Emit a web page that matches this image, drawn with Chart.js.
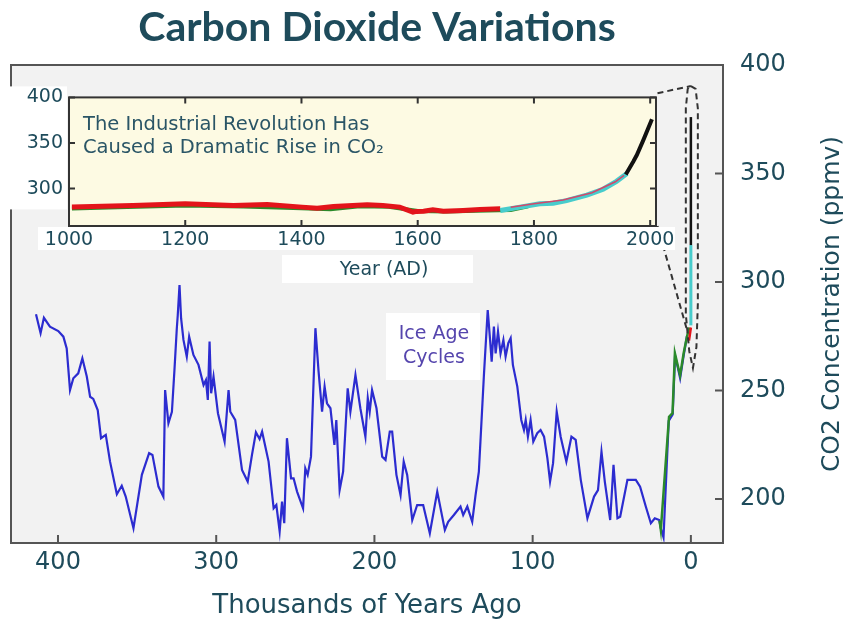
<!DOCTYPE html>
<html>
<head>
<meta charset="utf-8">
<script src="https://cdn.jsdelivr.net/npm/chart.js@4.4.0/dist/chart.umd.min.js"></script>
<style>
  body { margin: 0; background: #fff; }
  #wrap { position: relative; width: 843px; height: 619px; }
  #inset { position: absolute; left: 0; top: 80px; }
</style>
</head>
<body>
<div id="wrap">
  <canvas id="main" width="843" height="619"></canvas>
  <canvas id="inset" width="680" height="210"></canvas>
</div>
<script>
// ice core record (thousands of years ago, ppmv)
var blueAge = [413.9,411,408.9,405.1,399.8,396.6,394.5,392.4,390.3,387.2,384.6,381.8,379.7,377.7,374.9,372.8,369.8,367.1,362.8,359.7,357.2,352.3,347,342.4,340.3,336.5,333.4,332.3,330.2,328,326.4,324.9,324.3,323.2,322.2,320.7,318.6,317.1,314.4,311.2,308,306.5,305.3,304.2,303.2,301.7,298.9,294.7,292.2,291.1,288,283.7,280.1,277.4,274.9,272.6,271,266.9,263.7,262,259.9,258.4,257,255.3,252.7,251.1,248.9,245.1,243.7,242.2,240.1,237.3,235.3,233.1,231.5,230,227.8,225.3,224.1,222,219.8,216.9,215.2,212,208.9,205.7,204.2,203,201.5,198.7,195.1,193,190.3,188.8,186.1,183.5,181.5,179.3,176.1,173,169.2,165,160.3,155.5,153.4,149.8,145.6,143.9,141.3,138.2,136.1,134,130.8,128.4,127,125.9,124.5,123.4,121.9,120.3,118.5,117.1,115.4,113.9,112.5,109.7,107.2,105.5,104.4,103,101.3,99.6,97.1,95,92.8,90.7,89,87.1,84.8,82.3,78.7,75.5,72.8,69.6,65.4,61.2,58.7,56.5,54.4,51,48.9,46.4,44.7,40.1,34.8,32.1,28.5,25.3,22.8,20,19,17.3,14,11.5,10,8.4,6.8,4.6,2.5];
var blueCO2 = [285.1,276.4,283.5,279.4,277.4,274.8,269.4,250.2,255.6,257.9,264.8,256.4,247.1,246.1,241,228,229.5,217.2,202.2,206.1,201.1,186.5,211.1,221.1,220.3,205.7,201.1,250.2,234.9,240.2,259.4,278.7,284.8,298.6,283.3,273.3,265.6,274.8,266.4,261.8,252.5,254.8,245.6,272.5,248.7,256.4,239.5,226.4,250.2,240.2,236.4,213.4,208,220.3,230.7,227.6,231,217.2,195.7,197.2,185,198.8,188.8,228,209.5,209.5,203.4,195.7,214.1,211.1,219.5,278.7,258.7,240.2,251.8,244.1,241.8,224.9,236.4,204.1,212.6,251,240.2,257.1,241.8,228.7,246.4,240.2,250.2,241.8,219.5,218,231,231,211.1,201.8,217.2,211.1,190.3,197.2,197.2,184.2,203.4,185.7,189.5,192.6,196.5,192.6,196.5,189.5,201.8,212.6,257.1,287.1,274.1,263.3,279.4,267.1,277.1,267.1,273.3,265.6,271.8,274.1,261.8,251.8,236.4,231.8,236.4,228.7,236.4,226.4,230.3,231.8,228.7,218.8,208,216.5,240.2,228.7,217.2,228.7,227.2,208.8,191.1,201.1,204.1,221.8,208,190.3,215.7,191.1,191.8,208.8,208.8,205.7,196.5,188.8,191.1,190.3,186.5,182.3,236,239,266,261,255.6,266,275];

var greenAge = [19.8,19,13.8,11.6,10.1,8.4,6.8,4.6,2.5,1];
var greenCO2 = [190,185.7,237.9,239.5,267.1,261.8,257,267,274.8,279];
var redDotAge = [1.2,0];
var redDotCO2 = [273,279];
var cyanSpikeAge = [0,0];
var cyanSpikeCO2 = [280,317];
var blackSpikeAge = [0,0];
var blackSpikeCO2 = [317,376];

// dashed zoom callout
var loopAge = [0,-3,-4.4,-4.4,-3.5,-1.3,1,3.2,3.2,2,0];
var loopCO2 = [390.3,389,380,290,270,260.4,268,285,380,389,390.3];
var topLineAge = [21.1,0];
var topLineCO2 = [387,390.3];
var diagLineAge = [21.1,2.5];
var diagLineCO2 = [325.8,278];

var ageTicks = [400,300,200,100,0];
var co2Ticks = [200,250,300,350,400];

// inset: years AD
var greenYear = [1005,1100,1200,1300,1400,1450,1500,1550,1600,1650,1700,1760,1790];
var greenYearCO2 = [278.3,279.8,281.5,280.5,278.5,277.5,280.6,280,275.5,274.8,275.6,276.5,280.5];
var redYear = [1005,1110,1200,1283,1341,1401,1427,1455,1513,1540,1569,1592,1598,1610,1626,1644,1678,1707,1742];
var redCO2 = [279.7,281.5,283.3,281.5,282.5,279.7,278.6,280.4,282.2,281.5,279.7,274.3,275,275.3,276.8,275.3,276,277,277.8];
var cyanYear = [1742,1776,1810,1833,1856,1891,1919,1942,1960];
var cyanCO2 = [276,279.7,283.3,284,286.8,292.9,299.3,308,316.5];
var redThinYear = [1760,1800,1850,1900,1940,1955];
var redThinCO2 = [279.5,283.5,287.5,295.5,307.5,314.5];
var blackYear = [1958,1971,1977,1988,2003];
var blackCO2 = [315.4,329.7,336.8,352.9,376];

var yearTicks = [1000,1200,1400,1600,1800,2000];
var insetCo2Ticks = [300,350,400];

var tealText = '#1e4b5b';
var numFont = 'DejaVu Sans';

function pts(xs, ys) {
  return xs.map(function (x, i) { return { x: x, y: ys[i] }; });
}
function line(data, color, width, order, dash) {
  return { data: data, borderColor: color, borderWidth: width, order: order,
    borderDash: dash || [], pointRadius: 0, fill: false, tension: 0 };
}
function plain(v) { return String(v); }

var mainDecor = {
  id: 'mainDecor',
  beforeDraw: function (chart) {
    var a = chart.chartArea, ctx = chart.ctx;
    ctx.save();
    ctx.fillStyle = '#f2f2f2';
    ctx.fillRect(a.left, a.top, a.right - a.left, a.bottom - a.top);
    ctx.restore();
  },
  afterDatasetsDraw: function (chart) {
    var a = chart.chartArea, ctx = chart.ctx;
    ctx.save();
    ctx.strokeStyle = '#555';
    ctx.lineWidth = 2;
    ctx.strokeRect(a.left, a.top, a.right - a.left, a.bottom - a.top);
    ctx.beginPath();
    chart.scales.x.ticks.forEach(function (t) {
      var p = chart.scales.x.getPixelForValue(t.value);
      ctx.moveTo(p, a.bottom); ctx.lineTo(p, a.bottom - 8);
    });
    chart.scales.y.ticks.forEach(function (t) {
      var p = chart.scales.y.getPixelForValue(t.value);
      ctx.moveTo(a.right, p); ctx.lineTo(a.right - 8, p);
    });
    ctx.stroke();
    ctx.restore();
  },
  afterDraw: function (chart) {
    var a = chart.chartArea, ctx = chart.ctx;
    ctx.save();
    // title
    ctx.fillStyle = tealText;
    ctx.font = 'bold 41px Lato';
    ctx.textAlign = 'center';
    ctx.textBaseline = 'middle';
    ctx.fillText('Carbon Dioxide Variations', (a.left + a.right) / 2 + 10, 28);
    // right axis title, reading upward
    ctx.font = '25px ' + numFont;
    ctx.translate(chart.scales.y.right - 11, (a.top + a.bottom) / 2);
    ctx.rotate(-Math.PI / 2);
    ctx.fillText('CO2 Concentration (ppmv)', 0, 0);
    ctx.restore();
    // Ice Age Cycles label
    ctx.save();
    ctx.fillStyle = '#fff';
    ctx.fillRect(386, 313, 94, 67);
    ctx.fillStyle = '#5545ad';
    ctx.font = '19px ' + numFont;
    ctx.textAlign = 'center';
    ctx.textBaseline = 'middle';
    ctx.fillText('Ice Age', 434, 334);
    ctx.fillText('Cycles', 434, 358);
    ctx.restore();
  }
};

new Chart(document.getElementById('main'), {
  type: 'line',
  data: {
    datasets: [
      line(pts(loopAge, loopCO2), '#333', 2, 0, [6, 4]),
      line(pts(topLineAge, topLineCO2), '#333', 2, 0, [6, 4]),
      line(pts(diagLineAge, diagLineCO2), '#333', 2, 0, [6, 4]),
      line(pts(blackSpikeAge, blackSpikeCO2), '#111', 2.5, 1),
      line(pts(cyanSpikeAge, cyanSpikeCO2), '#48cccc', 3, 2),
      line(pts(redDotAge, redDotCO2), '#e3141b', 2.5, 3),
      line(pts(greenAge, greenCO2), '#2a8a2a', 2.5, 4),
      line(pts(blueAge, blueCO2), '#2c2cd0', 2.2, 5)
    ]
  },
  options: {
    responsive: false,
    animation: false,
    layout: { padding: { top: 65, left: 11, right: 0, bottom: 0 } },
    plugins: { legend: { display: false }, tooltip: { enabled: false } },
    scales: {
      x: {
        type: 'linear', reverse: true, min: -20.3, max: 429.7,
        afterBuildTicks: function (s) { s.ticks = ageTicks.map(function (v) { return { value: v }; }); },
        afterFit: function (s) { s.height = 76; },
        grid: { display: false, drawTicks: false },
        border: { display: false },
        ticks: { font: { family: numFont, size: 24 }, color: tealText, padding: 5, maxRotation: 0, autoSkip: false, callback: plain },
        title: { display: true, text: 'Thousands of Years Ago', color: tealText,
          font: { family: numFont, size: 26, lineHeight: 1 }, padding: { top: 0, bottom: 0 } }
      },
      y: {
        position: 'right', min: 179.7, max: 400,
        afterBuildTicks: function (s) { s.ticks = co2Ticks.map(function (v) { return { value: v }; }); },
        afterFit: function (s) { s.width = 120; },
        grid: { display: false, drawTicks: false },
        border: { display: false },
        ticks: { font: { family: numFont, size: 24 }, color: tealText, padding: 17, autoSkip: false, callback: plain }
      }
    }
  },
  plugins: [mainDecor]
});

var insetDecor = {
  id: 'insetDecor',
  beforeDraw: function (chart) {
    var a = chart.chartArea, ctx = chart.ctx;
    ctx.save();
    ctx.fillStyle = '#fff';
    ctx.fillRect(0, a.top - 11, a.left - 2, 123);
    ctx.fillRect(38, a.bottom + 1, a.right + 19 - 38, 23);
    ctx.fillRect(282, a.bottom + 29, 191, 28);
    ctx.fillStyle = '#fdfae3';
    ctx.fillRect(a.left, a.top, a.right - a.left, a.bottom - a.top);
    ctx.restore();
  },
  afterDatasetsDraw: function (chart) {
    var a = chart.chartArea, ctx = chart.ctx;
    ctx.save();
    ctx.strokeStyle = '#333';
    ctx.lineWidth = 2;
    ctx.strokeRect(a.left, a.top, a.right - a.left, a.bottom - a.top);
    ctx.beginPath();
    chart.scales.x.ticks.forEach(function (t) {
      var p = chart.scales.x.getPixelForValue(t.value);
      ctx.moveTo(p, a.bottom); ctx.lineTo(p, a.bottom - 6);
      ctx.moveTo(p, a.top); ctx.lineTo(p, a.top + 6);
    });
    chart.scales.y.ticks.forEach(function (t) {
      var p = chart.scales.y.getPixelForValue(t.value);
      ctx.moveTo(a.left, p); ctx.lineTo(a.left + 6, p);
      ctx.moveTo(a.right, p); ctx.lineTo(a.right - 6, p);
    });
    ctx.stroke();
    ctx.restore();
  },
  afterDraw: function (chart) {
    var a = chart.chartArea, ctx = chart.ctx;
    ctx.save();
    ctx.fillStyle = '#2a5566';
    ctx.font = '19.5px ' + numFont;
    ctx.textBaseline = 'middle';
    ctx.fillText('The Industrial Revolution Has', a.left + 14, a.top + 28);
    ctx.fillText('Caused a Dramatic Rise in CO\u2082', a.left + 14, a.top + 51);
    ctx.fillStyle = tealText;
    ctx.font = '19px ' + numFont;
    ctx.textAlign = 'center';
    ctx.fillText('Year (AD)', 384, a.bottom + 44);
    ctx.restore();
  }
};

new Chart(document.getElementById('inset'), {
  type: 'line',
  data: {
    datasets: [
      line(pts(blackYear, blackCO2), '#111', 4, 0),
      line(pts(redThinYear, redThinCO2), '#d2476a', 1.5, 1),
      line(pts(cyanYear, cyanCO2), '#48cccc', 5, 2),
      line(pts(redYear, redCO2), '#e3141b', 5, 3),
      line(pts(greenYear, greenYearCO2), '#2a8a2a', 4, 4)
    ]
  },
  options: {
    responsive: false,
    animation: false,
    layout: { padding: { top: 13, right: 24, left: 0, bottom: 0 } },
    plugins: { legend: { display: false }, tooltip: { enabled: false } },
    scales: {
      x: {
        type: 'linear', min: 1000, max: 2010,
        afterBuildTicks: function (s) { s.ticks = yearTicks.map(function (v) { return { value: v }; }); },
        afterFit: function (s) { s.height = 64; },
        grid: { display: false, drawTicks: false },
        border: { display: false },
        ticks: { font: { family: numFont, size: 19 }, color: tealText, padding: 3, maxRotation: 0, autoSkip: false, callback: plain }
      },
      y: {
        min: 259, max: 400,
        afterBuildTicks: function (s) { s.ticks = insetCo2Ticks.map(function (v) { return { value: v }; }); },
        afterFit: function (s) { s.width = 69; },
        grid: { display: false, drawTicks: false },
        border: { display: false },
        ticks: { font: { family: numFont, size: 19 }, color: tealText, padding: 6, autoSkip: false, callback: plain }
      }
    }
  },
  plugins: [insetDecor]
});
</script>
</body>
</html>
